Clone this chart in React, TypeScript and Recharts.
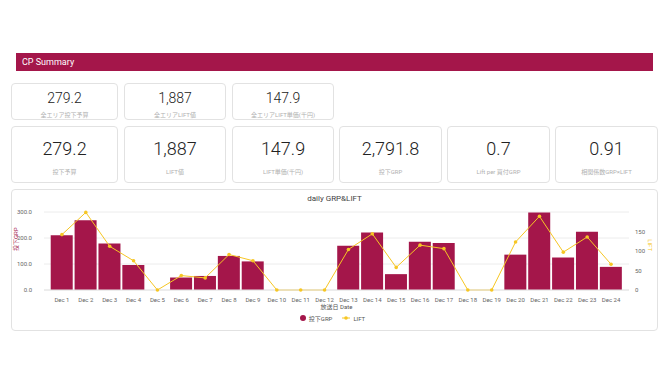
import React from "react";
import {
  ComposedChart,
  Bar,
  Line,
  XAxis,
  YAxis,
  CartesianGrid,
  Legend,
} from "recharts";

const DAYS = [
  "Dec 1", "Dec 2", "Dec 3", "Dec 4", "Dec 5", "Dec 6", "Dec 7", "Dec 8",
  "Dec 9", "Dec 10", "Dec 11", "Dec 12", "Dec 13", "Dec 14", "Dec 15", "Dec 16",
  "Dec 17", "Dec 18", "Dec 19", "Dec 20", "Dec 21", "Dec 22", "Dec 23", "Dec 24",
];
const GRP = [
  211, 268, 179, 96, 0, 48, 54, 131, 110, 0, 0, 0,
  170, 221, 61, 186, 181, 0, 0, 136, 298, 125, 224, 89,
];
const LIFT = [
  142, 199, 112, 75, 0, 37, 31, 91, 75, 0, 0, 0,
  104, 144, 58, 115, 106, 0, 0, 123, 189, 97, 136, 66,
];
const GRP_TICKS = [0, 100, 200, 300];
const LIFT_TICKS = [0, 50, 100, 150];

const TOP_KPIS = [
  { value: "279.2", label: "全エリア投下予算" },
  { value: "1,887", label: "全エリアLIFT値" },
  { value: "147.9", label: "全エリアLIFT単価(千円)" },
];
const KPIS = [
  { value: "279.2", label: "投下予算" },
  { value: "1,887", label: "LIFT値" },
  { value: "147.9", label: "LIFT単価(千円)" },
  { value: "2,791.8", label: "投下GRP" },
  { value: "0.7", label: "Lift per 買付GRP" },
  { value: "0.91", label: "相関係数GRP×LIFT" },
];

const CRIMSON = "#a4164a";
const YELLOW = "#f6c624";
const FONT = "Roboto, 'Noto Sans CJK JP', sans-serif";
const TICK = { fontSize: 6, fill: "#666", fontFamily: FONT };

const chartData = DAYS.map((d, i) => ({ day: d, grp: GRP[i], lift: LIFT[i] }));

const TOP_LEFTS = [11, 124, 232];
const TOP_WIDTHS = [107, 102, 102];
const ROW_LEFTS = [11, 124, 232, 339, 447, 555];
const ROW_WIDTHS = [107, 102, 102, 103, 103, 103];

const card: React.CSSProperties = {
  position: "absolute",
  boxSizing: "border-box",
  border: "1px solid #e2e2e2",
  borderRadius: 4,
  background: "#fff",
  textAlign: "center",
};

function LegendContent() {
  return (
    <div
      style={{
        display: "flex",
        justifyContent: "center",
        alignItems: "center",
        gap: 10,
        fontSize: 6,
        color: "#555",
        fontFamily: FONT,
        height: 14,
      }}
    >
      <span style={{ display: "flex", alignItems: "center", gap: 3 }}>
        <svg width={6} height={6}>
          <circle cx={3} cy={3} r={3} fill={CRIMSON} />
        </svg>
        投下GRP
      </span>
      <span style={{ display: "flex", alignItems: "center", gap: 3 }}>
        <svg width={8} height={6}>
          <line x1={0} y1={3} x2={8} y2={3} stroke={YELLOW} strokeWidth={1} />
          <circle cx={4} cy={3} r={1.8} fill={YELLOW} />
        </svg>
        LIFT
      </span>
    </div>
  );
}

export default function App() {
  return (
    <div
      style={{
        position: "absolute",
        left: 0,
        top: 0,
        width: 670,
        height: 388,
        background: "#fff",
        fontFamily: FONT,
        color: "#222",
      }}
    >
      <div
        style={{
          position: "absolute",
          left: 16,
          top: 53,
          width: 637,
          height: 18,
          background: CRIMSON,
          color: "#fff",
          fontSize: 9,
          lineHeight: "18px",
          paddingLeft: 6,
          boxSizing: "border-box",
        }}
      >
        CP Summary
      </div>

      {TOP_KPIS.map((k, i) => (
        <div key={k.label} style={{ ...card, left: TOP_LEFTS[i], top: 83, width: TOP_WIDTHS[i], height: 37 }}>
          <div style={{ fontSize: 14, fontWeight: 300, lineHeight: "14px", marginTop: 7 }}>{k.value}</div>
          <div style={{ fontSize: 6, color: "#b0b0b0", marginTop: 5 }}>{k.label}</div>
        </div>
      ))}

      {KPIS.map((k, i) => (
        <div key={k.label} style={{ ...card, left: ROW_LEFTS[i], top: 126, width: ROW_WIDTHS[i], height: 57 }}>
          <div style={{ fontSize: 18, fontWeight: 300, lineHeight: "18px", marginTop: 13 }}>{k.value}</div>
          <div style={{ fontSize: 6, color: "#b0b0b0", marginTop: 9 }}>{k.label}</div>
        </div>
      ))}

      <div style={{ ...card, left: 11, top: 189, width: 647, height: 142 }} />
      <div
        style={{
          position: "absolute",
          left: 11,
          top: 194,
          width: 647,
          textAlign: "center",
          fontSize: 8,
          fontWeight: 400,
          color: "#444",
        }}
      >
        daily GRP&amp;LIFT
      </div>

      <div style={{ position: "absolute", left: 11, top: 189 }}>
        <ComposedChart
          width={647}
          height={142}
          data={chartData}
          margin={{ top: 23, right: 4, bottom: 6, left: 0 }}
          barCategoryGap="3%"
        >
          <CartesianGrid vertical={false} stroke="#ececec" yAxisId="grp" />
          <XAxis
            dataKey="day"
            tick={TICK}
            tickLine={false}
            axisLine={{ stroke: "#e4e4e4" }}
            interval={0}
            height={21}
            tickMargin={2}
            padding={{ left: 6, right: 6 }}
            label={{ value: "放送日 Date", position: "insideBottom", offset: 2, fontSize: 6, fill: "#555", fontFamily: FONT }}
          />
          <YAxis
            yAxisId="grp"
            width={33}
            domain={[0, 300]}
            ticks={GRP_TICKS}
            tick={TICK}
            tickLine={false}
            axisLine={false}
            tickSize={6}
            tickMargin={6}
            tickFormatter={(v: number) => v.toFixed(1)}
            label={{ value: "投下GRP", angle: -90, position: "insideLeft", offset: 5, fontSize: 6, fill: CRIMSON, fontFamily: FONT }}
          />
          <YAxis
            yAxisId="lift"
            orientation="right"
            width={25}
            domain={[0, 200]}
            ticks={LIFT_TICKS}
            tick={TICK}
            tickLine={false}
            axisLine={false}
            tickSize={3}
            tickMargin={3}
            label={{ value: "LIFT", angle: 90, position: "insideRight", offset: 4, fontSize: 6, fill: YELLOW, fontFamily: FONT }}
          />
          <Legend verticalAlign="bottom" height={14} content={LegendContent} />
          <Bar yAxisId="grp" dataKey="grp" name="投下GRP" fill={CRIMSON} isAnimationActive={false} />
          <Line
            yAxisId="lift"
            type="linear"
            dataKey="lift"
            name="LIFT"
            stroke={YELLOW}
            strokeWidth={1}
            dot={{ r: 1.8, fill: YELLOW, stroke: YELLOW, strokeWidth: 0 }}
            isAnimationActive={false}
          />
        </ComposedChart>
      </div>
    </div>
  );
}
